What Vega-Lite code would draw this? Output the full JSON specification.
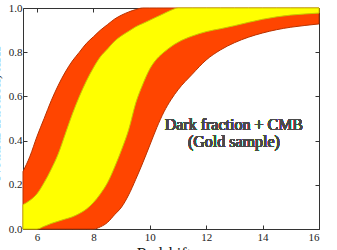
{
  "$schema": "https://vega.github.io/schema/vega-lite/v6.json",
  "width": 296,
  "height": 221,
  "autosize": {"type": "none"},
  "padding": {"left": 23, "top": 8, "right": 18, "bottom": 21},
  "background": "white",
  "config": {
    "view": {"stroke": "#333333", "strokeWidth": 1},
    "font": "Liberation Serif",
    "axis": {
      "domain": false,
      "grid": false,
      "tickColor": "#333333",
      "tickSize": -4,
      "labelFont": "Liberation Serif",
      "labelFontSize": 11,
      "labelColor": "#222222",
      "titleFont": "Liberation Serif",
      "titleFontWeight": "normal",
      "titleColor": "#111111",
      "titleFontSize": 16
    }
  },
  "data": {
    "values": [
      {"z": 5.5, "outer_lo": 0, "inner_lo": 0, "inner_hi": 0.11, "outer_hi": 0.26},
      {"z": 5.75, "outer_lo": 0, "inner_lo": 0, "inner_hi": 0.13, "outer_hi": 0.33},
      {"z": 6.0, "outer_lo": 0, "inner_lo": 0.0, "inner_hi": 0.16, "outer_hi": 0.42},
      {"z": 6.25, "outer_lo": 0, "inner_lo": 0.012, "inner_hi": 0.21, "outer_hi": 0.5},
      {"z": 6.5, "outer_lo": 0, "inner_lo": 0.025, "inner_hi": 0.27, "outer_hi": 0.58},
      {"z": 6.75, "outer_lo": 0, "inner_lo": 0.035, "inner_hi": 0.34, "outer_hi": 0.65},
      {"z": 7.0, "outer_lo": 0, "inner_lo": 0.045, "inner_hi": 0.43, "outer_hi": 0.71},
      {"z": 7.25, "outer_lo": 0, "inner_lo": 0.055, "inner_hi": 0.52, "outer_hi": 0.76},
      {"z": 7.5, "outer_lo": 0, "inner_lo": 0.07, "inner_hi": 0.6, "outer_hi": 0.8},
      {"z": 7.75, "outer_lo": 0, "inner_lo": 0.09, "inner_hi": 0.67, "outer_hi": 0.84},
      {"z": 8.0, "outer_lo": 0, "inner_lo": 0.12, "inner_hi": 0.73, "outer_hi": 0.87},
      {"z": 8.25, "outer_lo": 0.01, "inner_lo": 0.16, "inner_hi": 0.78, "outer_hi": 0.9},
      {"z": 8.5, "outer_lo": 0.03, "inner_lo": 0.21, "inner_hi": 0.815, "outer_hi": 0.925},
      {"z": 8.75, "outer_lo": 0.065, "inner_lo": 0.28, "inner_hi": 0.85, "outer_hi": 0.95},
      {"z": 9.0, "outer_lo": 0.1, "inner_lo": 0.36, "inner_hi": 0.875, "outer_hi": 0.968},
      {"z": 9.25, "outer_lo": 0.155, "inner_lo": 0.45, "inner_hi": 0.895, "outer_hi": 0.982},
      {"z": 9.5, "outer_lo": 0.225, "inner_lo": 0.57, "inner_hi": 0.915, "outer_hi": 0.993},
      {"z": 9.75, "outer_lo": 0.3, "inner_lo": 0.655, "inner_hi": 0.93, "outer_hi": 1.0},
      {"z": 10.0, "outer_lo": 0.38, "inner_lo": 0.725, "inner_hi": 0.945, "outer_hi": 1.0},
      {"z": 10.25, "outer_lo": 0.46, "inner_lo": 0.77, "inner_hi": 0.96, "outer_hi": 1.0},
      {"z": 10.5, "outer_lo": 0.53, "inner_lo": 0.8, "inner_hi": 0.975, "outer_hi": 1.0},
      {"z": 10.75, "outer_lo": 0.585, "inner_lo": 0.825, "inner_hi": 0.99, "outer_hi": 1.0},
      {"z": 11.0, "outer_lo": 0.63, "inner_lo": 0.845, "inner_hi": 1.0, "outer_hi": 1.0},
      {"z": 11.5, "outer_lo": 0.7, "inner_lo": 0.873, "inner_hi": 1.0, "outer_hi": 1.0},
      {"z": 12.0, "outer_lo": 0.765, "inner_lo": 0.893, "inner_hi": 1.0, "outer_hi": 1.0},
      {"z": 12.5, "outer_lo": 0.81, "inner_lo": 0.906, "inner_hi": 1.0, "outer_hi": 1.0},
      {"z": 13.0, "outer_lo": 0.843, "inner_lo": 0.92, "inner_hi": 1.0, "outer_hi": 1.0},
      {"z": 13.5, "outer_lo": 0.868, "inner_lo": 0.935, "inner_hi": 1.0, "outer_hi": 1.0},
      {"z": 14.0, "outer_lo": 0.887, "inner_lo": 0.949, "inner_hi": 1.0, "outer_hi": 1.0},
      {"z": 14.5, "outer_lo": 0.902, "inner_lo": 0.96, "inner_hi": 1.0, "outer_hi": 1.0},
      {"z": 15.0, "outer_lo": 0.913, "inner_lo": 0.968, "inner_hi": 1.0, "outer_hi": 1.0},
      {"z": 15.5, "outer_lo": 0.921, "inner_lo": 0.973, "inner_hi": 1.0, "outer_hi": 1.0},
      {"z": 16.0, "outer_lo": 0.928, "inner_lo": 0.977, "inner_hi": 1.0, "outer_hi": 1.0}
    ]
  },
  "layer": [
    {
      "mark": {"type": "area", "color": "#FF4500", "stroke": "#B83200", "strokeWidth": 1, "interpolate": "monotone"},
      "encoding": {
        "x": {"field": "z", "type": "quantitative", "scale": {"domain": [5.5, 16], "nice": false, "zero": false},
              "axis": {"orient": "bottom", "values": [6, 8, 10, 12, 14, 16], "labelPadding": 6, "title": "Redshift, z", "titleY": 16, "titleBaseline": "top"}},
        "y": {"field": "outer_hi", "type": "quantitative", "scale": {"domain": [0, 1], "nice": false},
              "axis": {"orient": "left", "values": [0, 0.2, 0.4, 0.6, 0.8, 1.0], "format": ".1f", "labelPadding": 5, "title": "Neutral fraction, xHI", "titleX": -24, "titleY": 105, "titleBaseline": "alphabetic", "titleAngle": -90}},
        "y2": {"field": "outer_lo"}
      }
    },
    {
      "mark": {"type": "area", "color": "#FFFF00", "stroke": "#C8C800", "strokeWidth": 1, "interpolate": "monotone"},
      "encoding": {
        "x": {"field": "z", "type": "quantitative", "axis": null},
        "y": {"field": "inner_hi", "type": "quantitative", "axis": null},
        "y2": {"field": "inner_lo"}
      }
    },
    {
      "mark": {"type": "text", "text": ["Dark fraction + CMB", "(Gold sample)"], "font": "Liberation Serif", "fontSize": 16, "fontWeight": 300, "lineHeight": 17, "fill": "#4a4a4a", "align": "center", "baseline": "alphabetic"},
      "encoding": {
        "x": {"datum": 12.98, "type": "quantitative", "axis": null},
        "y": {"datum": 0.448, "type": "quantitative", "axis": null}
      }
    },
    {
      "mark": {"type": "area", "opacity": 0, "interpolate": "monotone"},
      "encoding": {
        "x": {"field": "z", "type": "quantitative", "axis": {"orient": "top", "values": [6, 8, 10, 12, 14, 16], "labels": false, "title": null}},
        "y": {"field": "outer_hi", "type": "quantitative", "axis": {"orient": "right", "values": [0, 0.2, 0.4, 0.6, 0.8, 1.0], "labels": false, "title": null}},
        "y2": {"field": "outer_lo"}
      }
    }
  ],
  "resolve": {"axis": {"x": "independent", "y": "independent"}}
}
